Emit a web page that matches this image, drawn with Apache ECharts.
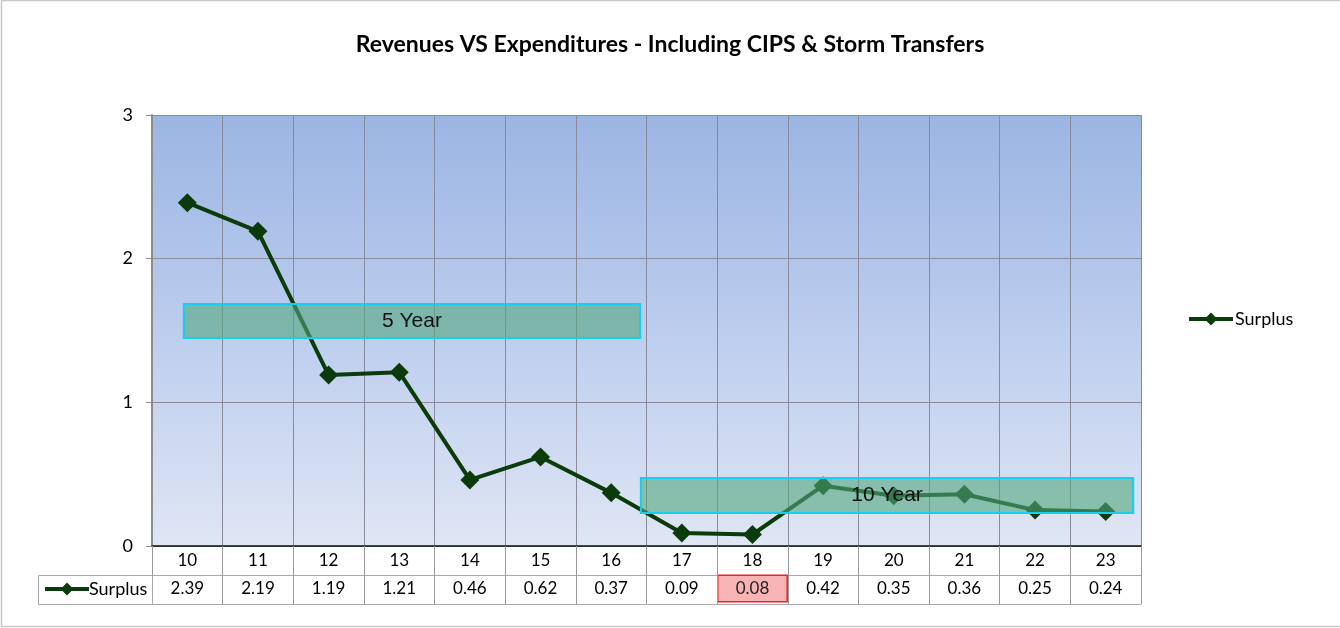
<!DOCTYPE html>
<html>
<head>
<meta charset="utf-8">
<title>Revenues VS Expenditures</title>
<script src="https://cdn.jsdelivr.net/npm/echarts@6/dist/echarts.min.js"></script>
<style>
  html, body { margin: 0; padding: 0; background: #fff; }
  #chart { width: 1340px; height: 628px; }
</style>
</head>
<body>
<div id="chart"></div>
<script>
// Fiscal years along the category axis
const categories = ['10', '11', '12', '13', '14', '15', '16', '17', '18', '19', '20', '21', '22', '23'];
// Surplus per year
const surplus = [2.39, 2.19, 1.19, 1.21, 0.46, 0.62, 0.37, 0.09, 0.08, 0.42, 0.35, 0.36, 0.25, 0.24];
// Value axis ticks
const yTicks = [0, 1, 2, 3];
// Year that is flagged in the data table
const flaggedYear = '18';
// Period bands: names, start/end along the category span (0..14), low/high in value
const bandNames = ['5 Year', '10 Year'];
const bandStart = [0.45, 6.92];
const bandEnd = [6.91, 13.89];
const bandLow = [1.447, 0.230];
const bandHigh = [1.684, 0.473];

const FONT = 'Lato, "Open Sans", sans-serif';
const LINE_COLOR = '#0b3a0b';
const chart = echarts.init(document.getElementById('chart'));

const tableLabels = surplus.map(v => v.toFixed(2));
const cellStyle = {
  fontFamily: FONT,
  fontSize: 17,
  color: '#000',
  width: 68,
  height: 25,
  align: 'center',
  verticalAlign: 'middle'
};

const bandData = bandNames.map((n, i) => [bandStart[i], bandEnd[i], bandLow[i], bandHigh[i]]);

// Translucent period bands drawn above the line, placed through the axes
function renderBand(params, api) {
  const topLeft = api.coord([api.value(0), api.value(3)]);
  const bottomRight = api.coord([api.value(1), api.value(2)]);
  const w = bottomRight[0] - topLeft[0];
  const h = bottomRight[1] - topLeft[1];
  return {
    type: 'group',
    children: [
      {
        type: 'rect',
        shape: { x: topLeft[0], y: topLeft[1], width: w, height: h },
        style: { fill: 'rgba(83,167,125,0.6)', stroke: '#13d0f0', lineWidth: 2 }
      },
      {
        type: 'text',
        x: topLeft[0] + w / 2,
        y: topLeft[1] + h / 2,
        style: {
          text: bandNames[params.dataIndex],
          align: 'center',
          verticalAlign: 'middle',
          fontFamily: '"Liberation Sans", Arial, sans-serif',
          fontSize: 21,
          fill: '#111'
        }
      }
    ]
  };
}

chart.setOption({
  animation: false,
  backgroundColor: '#ffffff',
  title: {
    text: 'Revenues VS Expenditures - Including CIPS & Storm Transfers',
    left: 'center',
    top: 28,
    textStyle: { fontFamily: FONT, fontSize: 23, fontWeight: 'bold', color: '#000' }
  },
  legend: [
    {
      data: ['Surplus'],
      left: 1182,
      top: 305,
      itemWidth: 44,
      itemHeight: 16,
      itemGap: 4,
      lineStyle: { width: 4 },
      textStyle: { fontFamily: FONT, fontSize: 18, color: '#000', padding: [0, 0, 0, -3] }
    },
    {
      data: ['Surplus'],
      left: 38,
      top: 575,
      itemWidth: 44,
      itemHeight: 16,
      lineStyle: { width: 4 },
      textStyle: { fontFamily: FONT, fontSize: 18, color: '#000', padding: [0, 0, 0, -5] }
    }
  ],
  grid: { left: 152, right: 199, top: 115, bottom: 82 },
  xAxis: [
    {
      type: 'category',
      data: categories,
      boundaryGap: true,
      axisLine: { lineStyle: { color: '#111', width: 1.5 } },
      axisTick: { show: true, interval: 0, length: 58, lineStyle: { color: '#999' } },
      axisLabel: { interval: 0, margin: 6, fontFamily: FONT, fontSize: 17, color: '#000' },
      splitLine: { show: true, interval: 0, lineStyle: { color: '#8a8a9a', width: 1 } },
      z: 4
    },
    {
      type: 'value',
      min: 0,
      max: 14,
      show: false
    },
    {
      type: 'category',
      data: categories,
      position: 'bottom',
      offset: 29,
      axisLine: { lineStyle: { color: '#aaa', width: 1 } },
      axisTick: { show: false },
      axisLabel: {
        interval: 0,
        margin: 1,
        formatter: (val, idx) => (val === flaggedYear ? '{flag|' : '{cell|') + tableLabels[idx] + '}',
        rich: {
          cell: cellStyle,
          flag: Object.assign({}, cellStyle, {
            color: '#222',
            backgroundColor: '#f8b4b4',
            borderColor: '#e8232a',
            borderWidth: 1.5
          })
        }
      }
    },
    {
      type: 'category',
      data: categories,
      position: 'bottom',
      offset: 58,
      axisLine: { lineStyle: { color: '#aaa', width: 1 } },
      axisTick: { show: false },
      axisLabel: { show: false }
    }
  ],
  yAxis: {
    type: 'value',
    min: yTicks[0],
    max: yTicks[yTicks.length - 1],
    interval: 1,
    axisLine: { show: true, lineStyle: { color: '#8c8c8c', width: 2 } },
    axisTick: { show: true, length: 6, lineStyle: { color: '#8c8c8c' } },
    axisLabel: { margin: 19, fontFamily: FONT, fontSize: 18, color: '#000' },
    splitLine: { show: true, lineStyle: { color: '#8a8a9a', width: 1 } },
    z: 4
  },
  graphic: [
    {
      type: 'rect',
      shape: { x: 1.5, y: 0.5, width: 1345, height: 626 },
      style: { fill: 'none', stroke: '#c8c8c8', lineWidth: 1.5 },
      silent: true,
      z: 100
    },
    {
      type: 'rect',
      shape: { x: 38.5, y: 575.5, width: 114, height: 29 },
      style: { fill: 'none', stroke: '#aaa', lineWidth: 1 },
      silent: true,
      z: 100
    }
  ],
  series: [
    {
      name: 'Surplus',
      type: 'line',
      data: surplus,
      xAxisIndex: 0,
      symbol: 'diamond',
      symbolSize: 19,
      lineStyle: { color: LINE_COLOR, width: 4 },
      itemStyle: { color: LINE_COLOR },
      z: 5
    },
    {
      name: 'plotBackground',
      type: 'line',
      xAxisIndex: 1,
      data: [],
      silent: true,
      z: 0,
      markArea: {
        silent: true,
        itemStyle: {
          color: {
            type: 'linear', x: 0, y: 0, x2: 0, y2: 1,
            colorStops: [
              { offset: 0, color: '#9bb5e3' },
              { offset: 0.5, color: '#bccdee' },
              { offset: 1, color: '#dfe6f4' }
            ]
          }
        },
        data: [[{ xAxis: 0, yAxis: yTicks[yTicks.length - 1] }, { xAxis: 14, yAxis: yTicks[0] }]]
      }
    },
    {
      name: 'periods',
      type: 'custom',
      xAxisIndex: 1,
      data: bandData,
      renderItem: renderBand,
      silent: true,
      clip: false,
      z: 10
    }
  ]
});
</script>
</body>
</html>
